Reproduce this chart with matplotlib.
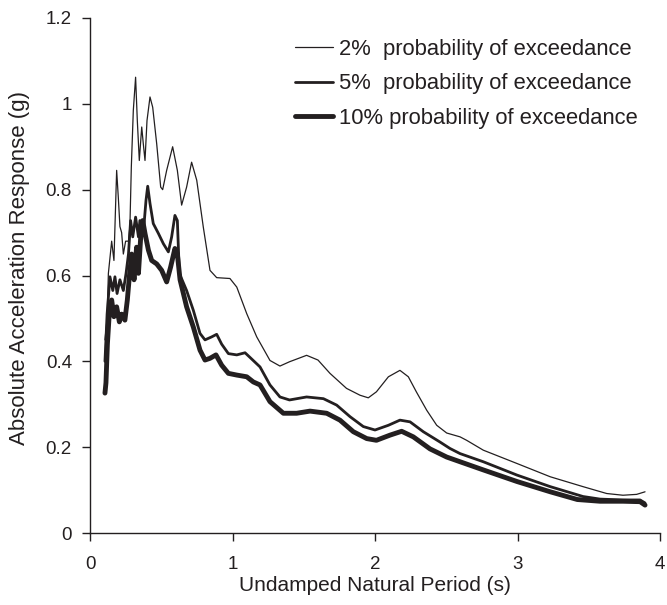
import matplotlib
matplotlib.use("Agg")
import matplotlib.pyplot as plt

plt.rcParams["font.family"] = ["Liberation Sans", "DejaVu Sans"]

# Response spectra: period (s) and absolute acceleration (g)
period_2 = [0.105, 0.12, 0.129, 0.152, 0.168, 0.187, 0.199, 0.21, 0.222, 0.234,
            0.25, 0.27, 0.28, 0.29, 0.304, 0.32, 0.332, 0.346, 0.363, 0.374,
            0.386, 0.40, 0.421, 0.44, 0.468, 0.496, 0.51, 0.538, 0.58, 0.613,
            0.643, 0.678, 0.713, 0.749, 0.795, 0.842, 0.889, 0.982, 1.03, 1.10,
            1.17, 1.263, 1.333, 1.40, 1.52, 1.60, 1.684, 1.80, 1.895, 1.953,
            2.01, 2.094, 2.175, 2.234, 2.29, 2.363, 2.433, 2.503, 2.597, 2.643,
            2.76, 2.996, 3.23, 3.46, 3.626, 3.74, 3.836, 3.895]
accel_2 = [0.45, 0.50, 0.605, 0.68, 0.635, 0.845, 0.78, 0.714, 0.70, 0.65,
           0.68, 0.68, 0.714, 0.853, 0.985, 1.062, 0.961, 0.868, 0.946, 0.907,
           0.868, 0.961, 1.016, 0.992, 0.907, 0.806, 0.80, 0.845, 0.90, 0.845,
           0.764, 0.806, 0.864, 0.822, 0.713, 0.612, 0.595, 0.593, 0.573, 0.511,
           0.457, 0.402, 0.389, 0.399, 0.414, 0.403, 0.372, 0.337, 0.321, 0.315,
           0.329, 0.364, 0.379, 0.364, 0.329, 0.286, 0.251, 0.233, 0.224, 0.216,
           0.193, 0.162, 0.131, 0.108, 0.092, 0.088, 0.09, 0.096]

period_5 = [0.105, 0.12, 0.14, 0.16, 0.175, 0.19, 0.21, 0.234, 0.253, 0.27,
            0.285, 0.30, 0.32, 0.34, 0.35, 0.374, 0.393, 0.405, 0.421, 0.444,
            0.48, 0.515, 0.55, 0.573, 0.596, 0.613, 0.627, 0.678, 0.725, 0.772,
            0.807, 0.854, 0.889, 0.924, 0.971, 1.03, 1.088, 1.12, 1.193, 1.263,
            1.333, 1.40, 1.52, 1.638, 1.731, 1.825, 1.918, 2.0, 2.094, 2.175,
            2.246, 2.339, 2.456, 2.526, 2.597, 2.76, 2.996, 3.23, 3.46, 3.579,
            3.74, 3.86, 3.895]
accel_5 = [0.40, 0.51, 0.597, 0.565, 0.597, 0.558, 0.59, 0.565, 0.605, 0.65,
           0.728, 0.69, 0.736, 0.69, 0.728, 0.698, 0.775, 0.808, 0.768, 0.721,
           0.698, 0.674, 0.655, 0.69, 0.74, 0.728, 0.605, 0.565, 0.519, 0.465,
           0.45, 0.457, 0.463, 0.44, 0.418, 0.415, 0.42, 0.41, 0.387, 0.345,
           0.317, 0.31, 0.317, 0.313, 0.298, 0.271, 0.248, 0.24, 0.251, 0.263,
           0.259, 0.236, 0.212, 0.197, 0.185, 0.166, 0.135, 0.108, 0.085, 0.079,
           0.077, 0.077, 0.07]

period_10 = [0.105, 0.112, 0.122, 0.135, 0.152, 0.168, 0.187, 0.206, 0.222, 0.245,
             0.262, 0.276, 0.292, 0.309, 0.327, 0.34, 0.356, 0.37, 0.386, 0.41,
             0.433, 0.468, 0.503, 0.538, 0.566, 0.596, 0.613, 0.632, 0.678, 0.725,
             0.772, 0.807, 0.842, 0.884, 0.924, 0.971, 1.03, 1.10, 1.146, 1.193,
             1.263, 1.357, 1.45, 1.544, 1.661, 1.754, 1.848, 1.942, 2.01, 2.105,
             2.187, 2.269, 2.386, 2.503, 2.597, 2.76, 2.996, 3.23, 3.42, 3.579,
             3.74, 3.86, 3.895]
accel_10 = [0.326, 0.35, 0.44, 0.51, 0.543, 0.504, 0.527, 0.492, 0.51, 0.496,
            0.543, 0.597, 0.65, 0.59, 0.666, 0.605, 0.69, 0.728, 0.698, 0.659,
            0.635, 0.627, 0.612, 0.585, 0.62, 0.663, 0.65, 0.59, 0.527, 0.48,
            0.426, 0.403, 0.407, 0.415, 0.391, 0.372, 0.368, 0.364, 0.352, 0.345,
            0.306, 0.279, 0.279, 0.284, 0.279, 0.263, 0.236, 0.22, 0.216, 0.228,
            0.237, 0.224, 0.196, 0.177, 0.166, 0.147, 0.12, 0.096, 0.078, 0.074,
            0.074, 0.073, 0.065]

labels = ["2%  probability of exceedance",
          "5%  probability of exceedance",
          "10% probability of exceedance"]
x_ticks = [0, 1, 2, 3, 4]
y_ticks = [0, 0.2, 0.4, 0.6, 0.8, 1.0, 1.2]
y_tick_labels = ["0", "0.2", "0.4", "0.6", "0.8", "1", "1.2"]

ink = "#231f20"

fig = plt.figure(figsize=(6.67, 6.05), dpi=100)
ax = fig.add_axes([90 / 667, 1 - 533 / 605, 570 / 667, (533 - 18) / 605])

line_style = dict(color=ink, solid_joinstyle="round", solid_capstyle="round")
ax.plot(period_2, accel_2, lw=0.9, label=labels[0], **line_style)
ax.plot(period_5, accel_5, lw=2.0, label=labels[1], **line_style)
ax.plot(period_10, accel_10, lw=3.5, label=labels[2], **line_style)

ax.set_xlim(0, 4)
ax.set_ylim(0, 1.2)
ax.set_xticks(x_ticks)
ax.set_xticklabels([str(v) for v in x_ticks])
ax.set_yticks(y_ticks)
ax.set_yticklabels(y_tick_labels)

for side in ("top", "right"):
    ax.spines[side].set_visible(False)
for side in ("left", "bottom"):
    ax.spines[side].set_color(ink)
    ax.spines[side].set_linewidth(1.0)

ax.tick_params(direction="out", length=6, width=1.0, color=ink,
               labelsize=13.5, labelcolor=ink)
ax.tick_params(axis="x", pad=10.5)
ax.tick_params(axis="y", pad=7)

ax.set_xlabel("Undamped Natural Period (s)", fontsize=15, color=ink, labelpad=2)
ax.set_ylabel("Absolute Acceleration Response (g)", fontsize=16, color=ink)
ax.yaxis.set_label_coords(-0.105, 0.515)

leg = ax.legend(loc="upper left", bbox_to_anchor=(0.36, 0.96), frameon=False,
                fontsize=15.8, handlelength=1.7, handletextpad=0.3,
                labelspacing=0.62, borderaxespad=0, borderpad=0)
for t in leg.get_texts():
    t.set_color(ink)

fig.savefig("out.png", dpi=100)
